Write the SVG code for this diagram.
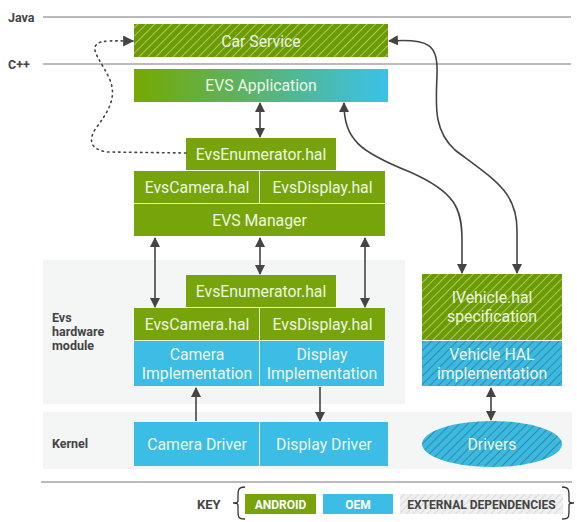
<svg xmlns="http://www.w3.org/2000/svg" width="577" height="522" viewBox="0 0 577 522">
<defs>
<style>
.lbl{font-family:Roboto,"Liberation Sans",sans-serif;font-size:15.8px;fill:#eef6e4;text-anchor:middle}
.side{font-family:Roboto,"Liberation Sans",sans-serif;font-size:12.5px;font-weight:bold;fill:#444}
.g{fill:#76a40a}
.b{fill:#3bbde6}
.sep{stroke:#e8f3d8;stroke-width:1}
.conn{fill:none;stroke:#444;stroke-width:1.6}
.key{font-family:Roboto,"Liberation Sans",sans-serif;font-size:12px;font-weight:bold;text-anchor:middle}
</style>
<pattern id="hg" patternUnits="userSpaceOnUse" width="6" height="6" patternTransform="rotate(45)">
<rect width="6" height="6" fill="#6b9b00"/><line x1="0" y1="0" x2="0" y2="6" stroke="#e9f3d6" stroke-width="1"/>
</pattern>
<pattern id="hb" patternUnits="userSpaceOnUse" width="6" height="6" patternTransform="rotate(45)">
<rect width="6" height="6" fill="#3bb9e0"/><line x1="0" y1="0" x2="0" y2="6" stroke="#1f5d6e" stroke-width="1"/>
</pattern>
<pattern id="hk" patternUnits="userSpaceOnUse" width="5" height="5" patternTransform="rotate(45)">
<rect width="5" height="5" fill="#f0f0f0"/><line x1="0" y1="0" x2="0" y2="5" stroke="#c4c4c4" stroke-width="1"/>
</pattern>
<linearGradient id="app" x1="0" y1="0" x2="1" y2="0">
<stop offset="0" stop-color="#76a800"/><stop offset="1" stop-color="#3bc1ea"/>
</linearGradient>
<marker id="ah" viewBox="0 0 10 10" refX="9" refY="5" markerWidth="10" markerHeight="10" markerUnits="userSpaceOnUse" orient="auto-start-reverse">
<path d="M0,0 L10,5 L0,10 z" fill="#444"/>
</marker>
<marker id="ahd" viewBox="0 0 10 10" refX="9" refY="5" markerWidth="11" markerHeight="11" markerUnits="userSpaceOnUse" orient="auto">
<path d="M0,0 L10,5 L0,10 z" fill="#444"/>
</marker>
</defs>
<rect width="577" height="522" fill="#fff"/>

<g id="layers">
<line x1="43" y1="17" x2="571" y2="17" stroke="#777" stroke-width="1"/>
<line x1="43" y1="64" x2="571" y2="64" stroke="#777" stroke-width="1"/>
<text x="8" y="21.5" class="side">Java</text>
<text x="8" y="68.5" class="side">C++</text>
<rect x="43" y="260" width="362" height="144" fill="#f4f5f5"/>
<rect x="43" y="412" width="529" height="57" fill="#f4f5f5"/>
<line x1="41" y1="482" x2="572" y2="482" stroke="#777" stroke-width="1"/>
<text x="52" y="322" class="side">Evs</text>
<text x="52" y="336" class="side">hardware</text>
<text x="52" y="350" class="side">module</text>
<text x="52" y="448" class="side">Kernel</text>
</g>

<g id="car-service">
<rect x="134" y="24" width="254" height="33" fill="url(#hg)"/>
<text x="261" y="46.5" class="lbl">Car Service</text>
</g>
<g id="evs-application">
<rect x="134" y="69" width="254" height="33" fill="url(#app)"/>
<text x="261" y="91" class="lbl">EVS Application</text>
</g>
<g id="evs-enumerator-top">
<rect x="186" y="138" width="150" height="32" class="g"/>
<text x="261" y="159.5" class="lbl">EvsEnumerator.hal</text>
</g>
<g id="evs-camera-top">
<rect x="134" y="171" width="126" height="32" class="g"/>
<text x="197" y="192.5" class="lbl">EvsCamera.hal</text>
</g>
<g id="evs-display-top">
<rect x="260" y="171" width="125" height="32" class="g"/>
<text x="322.5" y="192.5" class="lbl">EvsDisplay.hal</text>
</g>
<g id="evs-manager">
<rect x="134" y="204" width="251" height="32" class="g"/>
<text x="259.5" y="225.5" class="lbl">EVS Manager</text>
</g>
<line x1="134" y1="203.5" x2="385" y2="203.5" class="sep"/>
<line x1="259.5" y1="171" x2="259.5" y2="203" class="sep"/>

<g id="evs-enumerator-hw">
<rect x="186" y="275" width="150" height="32" class="g"/>
<text x="261" y="296.5" class="lbl">EvsEnumerator.hal</text>
</g>
<g id="evs-camera-hw">
<rect x="134" y="308" width="126" height="32" class="g"/>
<text x="197" y="329.5" class="lbl">EvsCamera.hal</text>
</g>
<g id="evs-display-hw">
<rect x="260" y="308" width="125" height="32" class="g"/>
<text x="322.5" y="329.5" class="lbl">EvsDisplay.hal</text>
</g>
<g id="camera-implementation">
<rect x="134" y="341" width="126" height="45" class="b"/>
<text x="197" y="359.5" class="lbl">Camera</text>
<text x="197" y="378.5" class="lbl">Implementation</text>
</g>
<g id="display-implementation">
<rect x="260" y="341" width="124" height="45" class="b"/>
<text x="322" y="359.5" class="lbl">Display</text>
<text x="322" y="378.5" class="lbl">Implementation</text>
</g>
<line x1="259.5" y1="308" x2="259.5" y2="386" class="sep"/>
<line x1="134" y1="340.5" x2="385" y2="340.5" class="sep"/>

<g id="camera-driver">
<rect x="134" y="422" width="126" height="44" class="b"/>
<text x="197" y="449.5" class="lbl">Camera Driver</text>
</g>
<g id="display-driver">
<rect x="260" y="422" width="128" height="44" class="b"/>
<text x="324" y="449.5" class="lbl">Display Driver</text>
</g>
<line x1="259.5" y1="422" x2="259.5" y2="466" class="sep"/>

<g id="ivehicle-hal">
<rect x="422" y="274" width="140" height="66" fill="url(#hg)"/>
<text x="492" y="303" class="lbl">IVehicle.hal</text>
<text x="492" y="322" class="lbl">specification</text>
</g>
<g id="vehicle-hal-impl">
<rect x="422" y="341" width="140" height="45" fill="url(#hb)"/>
<text x="492" y="359.5" class="lbl">Vehicle HAL</text>
<text x="492" y="378.5" class="lbl">implementation</text>
</g>
<g id="drivers">
<ellipse cx="492" cy="444" rx="70" ry="23" fill="url(#hb)"/>
<text x="492" y="449.5" class="lbl">Drivers</text>
</g>

<g id="connectors">
<line x1="260" y1="103" x2="260" y2="137" class="conn" marker-start="url(#ah)" marker-end="url(#ah)"/>
<line x1="155" y1="238" x2="155" y2="307" class="conn" marker-start="url(#ah)" marker-end="url(#ah)"/>
<line x1="260" y1="238" x2="260" y2="274" class="conn" marker-start="url(#ah)" marker-end="url(#ah)"/>
<line x1="365" y1="238" x2="365" y2="307" class="conn" marker-start="url(#ah)" marker-end="url(#ah)"/>
<line x1="196" y1="421" x2="196" y2="388" class="conn" marker-end="url(#ah)"/>
<line x1="320" y1="387" x2="320" y2="421" class="conn" marker-end="url(#ah)"/>
<line x1="491" y1="388" x2="491" y2="420" class="conn" marker-start="url(#ah)" marker-end="url(#ah)"/>
<path d="M344,103 C344,140 360,152 410,172 C455,192 462,208 462,240 L462,273" class="conn" marker-start="url(#ah)" marker-end="url(#ah)"/>
<path d="M389,41 C430,38 438,45 437,75 C436,105 433,130 455,150 C495,180 517,192 517,230 L517,273" class="conn" marker-start="url(#ah)" marker-end="url(#ah)"/>
<path d="M186,153 L108,152 C90,150 88,140 96,128 C108,112 117,98 110,80 C102,62 90,50 97,44 C102,40 112,41 133,41" fill="none" stroke="#444" stroke-width="1.6" stroke-dasharray="1.5 4" stroke-linecap="round" marker-end="url(#ahd)"/>
</g>

<g id="key">
<text x="197" y="509" class="side" style="font-size:13px">KEY</text>
<path d="M245,487 C238,487 238,490 238,497 L238,501 C238,503 236,503 233,503 C236,503 238,503 238,505 L238,510 C238,517 238,519 245,519" fill="none" stroke="#333" stroke-width="1.3"/>
<rect x="245" y="494" width="71" height="20" class="g"/>
<text x="280.5" y="508.5" class="key" fill="#fff">ANDROID</text>
<rect x="323" y="494" width="70" height="20" class="b"/>
<text x="358" y="508.5" class="key" fill="#fff">OEM</text>
<rect x="400" y="494" width="163" height="20" fill="url(#hk)"/>
<text x="481.5" y="508.5" class="key" fill="#444">EXTERNAL DEPENDENCIES</text>
<path d="M562,487 C569,487 569,490 569,497 L569,501 C569,503 571,503 574,503 C571,503 569,503 569,505 L569,510 C569,517 569,519 562,519" fill="none" stroke="#333" stroke-width="1.3"/>
</g>
</svg>
